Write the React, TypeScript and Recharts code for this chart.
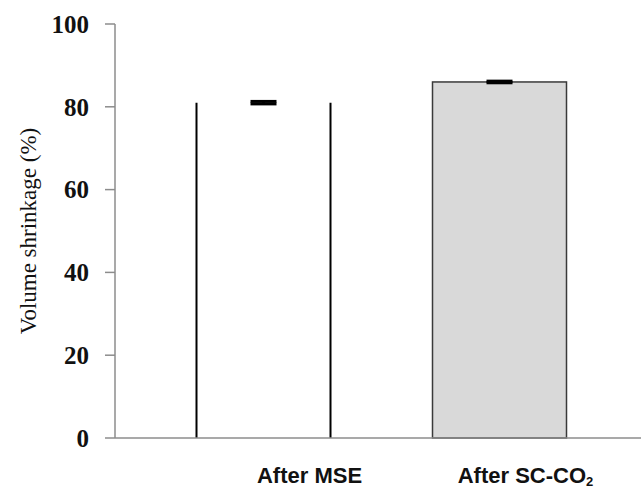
import { Bar, BarChart, ErrorBar, Label, XAxis, YAxis } from "recharts"

const categories = ["After MSE", "After SC-CO2"]
const shrinkage = [81.0, 86.0]
const shrinkageErr = [0.3, 0.2]
const yTicks = [0, 20, 40, 60, 80, 100]

const data = categories.map((name, i) => ({ name, value: shrinkage[i], err: shrinkageErr[i] }))

// label nudges to the right of the bar centre, as in the source figure
const labelShift = [46, 26]

function ShrinkBar(props: any) {
  const { x, y, width, height, index } = props
  if (index === 0) {
    // first bar is drawn open: only its two sides
    return (
      <g>
        <line x1={x} y1={y} x2={x} y2={y + height} stroke="#000" strokeWidth={2} />
        <line x1={x + width} y1={y} x2={x + width} y2={y + height} stroke="#000" strokeWidth={2} />
      </g>
    )
  }
  return <rect x={x} y={y} width={width} height={height} fill="#d9d9d9" stroke="#3a3a3a" strokeWidth={1.5} />
}

function CategoryTick(props: any) {
  const { x, y, payload, index } = props
  const text = String(payload.value)
  const sub = text.endsWith("CO2")
  return (
    <text
      x={x + labelShift[index]}
      y={y + 37}
      textAnchor="middle"
      fontFamily="Liberation Sans, Arial, sans-serif"
      fontWeight="bold"
      fontSize={22}
      fill="#111"
    >
      {sub ? text.slice(0, -1) : text}
      {sub && (
        <tspan fontSize={13} dy={3}>
          2
        </tspan>
      )}
    </text>
  )
}

export default function App() {
  return (
    <div style={{ position: "absolute", left: 0, top: 0, background: "#fff" }}>
      <BarChart width={641} height={491} data={data} margin={{ top: 24, right: 0, bottom: 23, left: 0 }} barSize={134}>
        <XAxis
          dataKey="name"
          height={30}
          axisLine={{ stroke: "#8c8c8c", strokeWidth: 1.5 }}
          tickLine={false}
          padding={{ left: 30.5, right: 23.5 }}
          tick={<CategoryTick />}
          interval={0}
        />
        <YAxis
          width={115}
          domain={[0, 100]}
          ticks={yTicks}
          axisLine={{ stroke: "#8c8c8c", strokeWidth: 1.5 }}
          tickLine={{ stroke: "#8c8c8c", strokeWidth: 1.5 }}
          tickSize={10}
          tickMargin={16}
          tick={{ fontFamily: "Liberation Serif, serif", fontWeight: "bold", fontSize: 25, fill: "#111" }}
        >
          <Label
            value="Volume shrinkage (%)"
            angle={-90}
            position="insideLeft"
            offset={28}
            style={{ textAnchor: "middle", fontFamily: "Liberation Serif, serif", fontSize: 23, fill: "#111" }}
          />
        </YAxis>
        <Bar dataKey="value" shape={<ShrinkBar />} isAnimationActive={false}>
          <ErrorBar dataKey="err" width={13} stroke="#000" strokeWidth={3} direction="y" />
        </Bar>
      </BarChart>
    </div>
  )
}
